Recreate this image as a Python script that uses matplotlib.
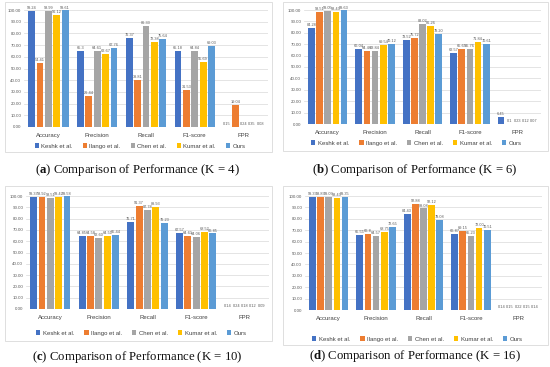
import matplotlib
matplotlib.use("Agg")
import matplotlib.pyplot as plt
from matplotlib.patches import Rectangle
import numpy as np

plt.rcParams['mathtext.fontset'] = 'custom'
plt.rcParams['mathtext.bf'] = 'Liberation Serif:bold'
plt.rcParams['mathtext.rm'] = 'Liberation Serif'

CATEGORIES = ["Accuracy", "Precision", "Recall", "F1-score", "FPR"]
METHODS = ["Keshk et al.", "Ilango et al.", "Chen et al.", "Kumar et al.", "Ours"]
COLORS = ["#4472C4", "#ED7D31", "#A5A5A5", "#FFC000", "#5B9BD5"]
Y_TICKS = [0, 10, 20, 30, 40, 50, 60, 70, 80, 90, 100]

# values as printed labels (K = 4)
K4_KESHK = ["99.24", "65.3", "76.37", "65.18", "0.15"]
K4_ILANGO = ["54.41", "26.44", "39.81", "31.53", "19.04"]
K4_CHEN = ["98.99", "64.61", "86.33", "64.84", "0.24"]
K4_KUMAR = ["96.12", "62.67", "72.38", "55.69", "0.35"]
K4_OURS = ["99.61", "67.76", "75.64", "69.03", "0.08"]

# K = 6
K6_KESHK = ["84.28", "66.04", "73.52", "62.57", "6.45"]
K6_ILANGO = ["98.51", "64.46", "75.72", "65.65", "0.1"]
K6_CHEN = ["99.05", "63.84", "88.02", "65.76", "0.23"]
K6_KUMAR = ["98.43", "69.54", "86.26", "71.84", "0.12"]
K6_OURS = ["99.63", "70.12", "79.20", "70.61", "0.07"]

# K = 10
K10_KESHK = ["99.37", "64.85", "76.71", "67.57", "0.14"]
K10_ILANGO = ["98.92", "64.58", "91.37", "64.61", "0.24"]
K10_CHEN = ["98.51", "62.60", "87.78", "64.06", "0.18"]
K10_KUMAR = ["99.42", "64.51", "89.93", "68.52", "0.12"]
K10_OURS = ["99.58", "65.44", "76.23", "66.85", "0.09"]

# K = 16
K16_KESHK = ["99.33", "65.55", "84.43", "66.87", "0.14"]
K16_ILANGO = ["98.83", "66.8", "92.88", "69.15", "0.15"]
K16_CHEN = ["99.03", "64.57", "89.08", "65.23", "0.22"]
K16_KUMAR = ["98.43", "68.75", "92.12", "72.00", "0.15"]
K16_OURS = ["99.35", "72.65", "79.08", "70.51", "0.14"]

PANELS = [
    ("a", "4", [K4_KESHK, K4_ILANGO, K4_CHEN, K4_KUMAR, K4_OURS]),
    ("b", "6", [K6_KESHK, K6_ILANGO, K6_CHEN, K6_KUMAR, K6_OURS]),
    ("c", "10", [K10_KESHK, K10_ILANGO, K10_CHEN, K10_KUMAR, K10_OURS]),
    ("d", "16", [K16_KESHK, K16_ILANGO, K16_CHEN, K16_KUMAR, K16_OURS]),
]

W, H = 550, 367
fig = plt.figure(figsize=(W / 100, H / 100), dpi=100)

# layout in pixels: (plot left, plot right, y100, y0, box(l,t,r,b), legend y, caption x, caption y)
LAYOUT = [
    (24, 268, 10, 127, (5, 2, 272, 152), 146, 137, 170),
    (304, 541, 10, 124, (283, 2, 548, 151), 143, 415, 170),
    (26, 269, 196, 309, (5, 186, 272, 341), 333, 137, 357),
    (305, 542, 196, 310, (283, 186, 548, 345), 339, 415, 356),
]

def fx(px):
    return px / W

def fy(py):
    return 1 - py / H

label_color = "#595959"
for (letter, k, series), (pl, pr, y100, y0, box, legy, capx, capy) in zip(PANELS, LAYOUT):
    bl, bt, br, bb = box
    fig.patches.append(Rectangle((fx(bl), fy(bb)), fx(br - bl), (bb - bt) / H,
                                 transform=fig.transFigure, fill=False,
                                 edgecolor="#D9D9D9", linewidth=0.6))
    ax = fig.add_axes([fx(pl), fy(y0), fx(pr - pl), (y0 - y100) / H])
    x = np.arange(len(CATEGORIES))
    slot = 0.172
    bw = 0.14
    handles = []
    for i, (name, vals, col) in enumerate(zip(METHODS, series, COLORS)):
        heights = [float(v) for v in vals]
        pos = x + (i - 2) * slot
        bars = ax.bar(pos, heights, width=bw, color=col, label=name, zorder=3)
        handles.append(bars)
        for p, h, s in zip(pos, heights, vals):
            ax.text(p, h + 0.8, s, ha="center", va="bottom", fontsize=2.8,
                    color=label_color, family="Liberation Sans", clip_on=False, zorder=4)
    ax.set_xlim(-0.5, len(CATEGORIES) - 0.5)
    ax.set_ylim(0, 100)
    ax.set_yticks(Y_TICKS)
    ax.set_yticklabels([f"{t:.2f}" for t in Y_TICKS], fontsize=3.2, color=label_color,
                       family="Liberation Sans")
    ax.set_xticks(x)
    ax.set_xticklabels(CATEGORIES, fontsize=4.3, color="#404040", family="Liberation Sans")
    ax.tick_params(length=0, pad=2)
    ax.tick_params(axis="x", pad=4)
    for sp in ax.spines.values():
        sp.set_visible(False)
    ax.grid(axis="y", color="#D9D9D9", linewidth=0.5, zorder=0)
    ax.set_axisbelow(True)
    ax.patch.set_alpha(0)
    ax.legend(handles=handles, labels=METHODS, loc="center", ncol=5, frameon=False,
              bbox_to_anchor=(fx((pl + pr) / 2 - 6), fy(legy)), bbox_transform=fig.transFigure,
              prop={"family": "Liberation Sans", "size": 4.3}, handlelength=0.7,
              handleheight=0.7, handletextpad=0.4, columnspacing=1.7, labelcolor="#404040")
    fig.text(fx(capx), fy(capy), r"($\mathbf{" + letter + r"}$) Comparison of Performance (K = " + k + ")",
             ha="center", va="center", fontsize=9.2, family="Liberation Serif", color="#111111")

fig.savefig("out.png", dpi=100)
